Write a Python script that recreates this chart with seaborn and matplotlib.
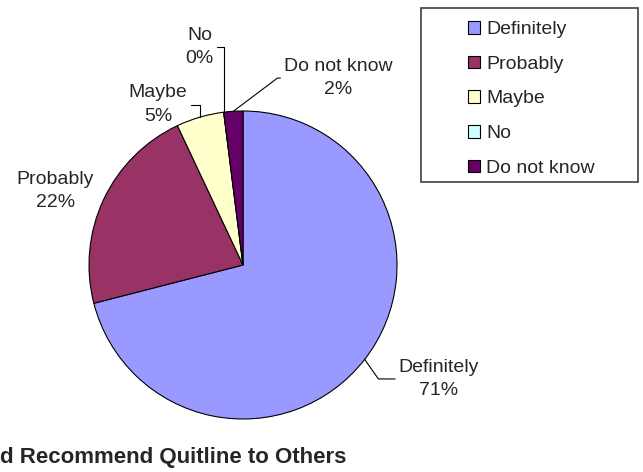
import matplotlib.pyplot as plt
import matplotlib.patches as mpatches
import seaborn as sns
import numpy as np

sns.set_theme(style="white")
plt.rcParams['font.family'] = ['Liberation Sans', 'DejaVu Sans']

# 데이터
categories = ['Definitely', 'Probably', 'Maybe', 'No', 'Do not know']
percents = [71, 22, 5, 0, 2]
colors = ['#9999FF', '#993366', '#FFFFCC', '#CCFFFF', '#660066']
title = 'd Recommend Quitline to Others'

# 라벨 위치 (파이 반지름 = 1 기준)
label_pos = [(1.27, -0.74), (-1.22, 0.48), (-0.552, 1.042), (-0.282, 1.416), (0.617, 1.214)]
label_rel = [(0, 0.5), None, (1, 0.5), (1, 0.5), (0, 0.5)]
leader_angle = [125, None, 90, 90, 37]

fig = plt.figure(figsize=(6.43, 4.72), dpi=100)
ax = fig.add_axes([89 / 643, 53 / 472, 308 / 643, 308 / 472])

wedges, _ = ax.pie(percents, colors=sns.color_palette(colors), startangle=90,
                   counterclock=False, radius=1,
                   wedgeprops={'edgecolor': 'black', 'linewidth': 0.8})
ax.set_xlim(-1, 1)
ax.set_ylim(-1, 1)
ax.set_aspect('auto')

for w, name, p, pos, rel, ang in zip(wedges, categories, percents, label_pos, label_rel, leader_angle):
    mid = np.deg2rad((w.theta1 + w.theta2) / 2)
    xy = (np.cos(mid), np.sin(mid))
    txt = f'{name}\n{p}%'
    if ang is None:
        ax.text(pos[0], pos[1], txt, ha='center', va='center', fontsize=14, linespacing=1.5)
    else:
        ax.annotate(txt, xy=xy, xytext=pos, ha='center', va='center', fontsize=14,
                    linespacing=1.5, annotation_clip=False,
                    arrowprops=dict(arrowstyle='-', color='black', lw=0.8,
                                    relpos=rel, shrinkA=0, shrinkB=0,
                                    connectionstyle=f'angle,angleA=0,angleB={ang},rad=0'))

# 범례
fig.patches.append(mpatches.Rectangle((421 / 643, 1 - 182 / 472), 217 / 643, 174.5 / 472,
                                      transform=fig.transFigure, fill=False,
                                      edgecolor='#404040', linewidth=1.2))
fig.legend(wedges, categories, loc='upper left', bbox_to_anchor=(468 / 643, 1 - 21 / 472),
           frameon=False, fontsize=14, borderpad=0, borderaxespad=0,
           handlelength=0.62, handleheight=0.62, handletextpad=0.3, labelspacing=0.9)

fig.text(0, 1 - 458 / 472, title, ha='left', va='center', fontsize=16, fontweight='bold')

plt.savefig('out.png', dpi=100)
